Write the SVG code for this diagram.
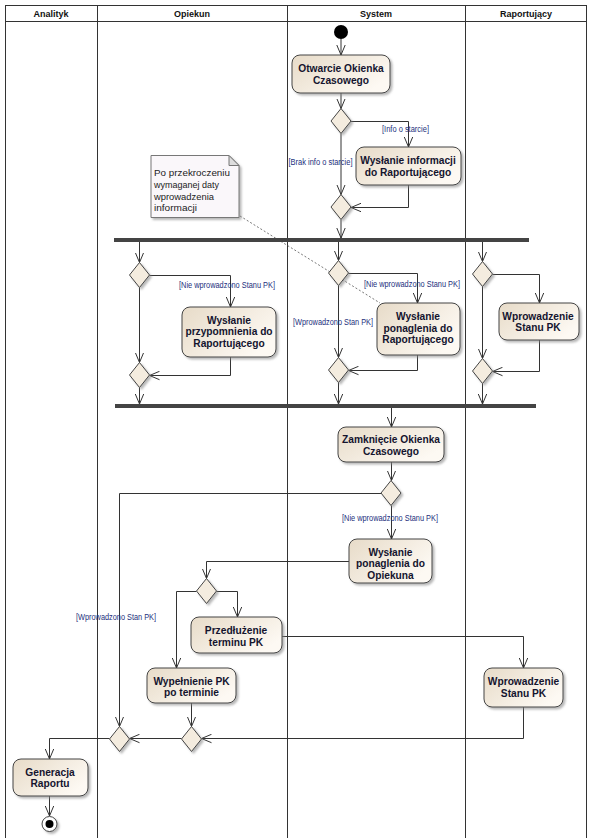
<svg xmlns="http://www.w3.org/2000/svg" width="591" height="838" viewBox="0 0 591 838">
<style>
.lane{fill:none;stroke:#333;stroke-width:1}
.hd{font-family:"Liberation Sans",Arial,sans-serif;font-size:9px;font-weight:bold;fill:#111;text-anchor:middle}
.act{fill:url(#g);stroke:#444;stroke-width:1;filter:url(#sh)}
.dia{fill:#f4ecdf;stroke:#444;stroke-width:1;filter:url(#sh)}
.at{font-family:"Liberation Sans",Arial,sans-serif;font-size:10.2px;font-weight:bold;fill:#14142e;text-anchor:middle}
.c{fill:none;stroke:#333;stroke-width:1;marker-end:url(#arr)}
.cn{fill:none;stroke:#333;stroke-width:1}
.lb{font-family:"Liberation Sans",Arial,sans-serif;font-size:8.5px;fill:#1c2f7c;text-anchor:middle}
.bar{fill:#444}
.nt{font-family:"Liberation Sans",Arial,sans-serif;font-size:9px;fill:#222}
</style>
<defs>
<linearGradient id="g" x1="0" y1="0" x2="1" y2="0.6">
<stop offset="0" stop-color="#e7dbc8"/>
<stop offset="1" stop-color="#fdf9f3"/>
</linearGradient>
<filter id="sh" x="-20%" y="-20%" width="150%" height="150%">
<feDropShadow dx="2" dy="2" stdDeviation="1" flood-color="#888" flood-opacity="0.6"/>
</filter>
<marker id="arr" viewBox="0 0 10 10" refX="10" refY="5" markerWidth="10" markerHeight="10" markerUnits="userSpaceOnUse" orient="auto">
<path d="M0,0.8 L10,5 L0,9.2" fill="none" stroke="#333" stroke-width="1"/>
</marker>
</defs>
<rect width="591" height="838" fill="#fff"/>
<g id="lanes">
<rect class="lane" x="5.5" y="5.5" width="581" height="840"/>
<line class="lane" x1="5" y1="21.5" x2="587" y2="21.5"/>
<line class="lane" x1="97.5" y1="5" x2="97.5" y2="838"/>
<line class="lane" x1="287.5" y1="5" x2="287.5" y2="838"/>
<line class="lane" x1="465.5" y1="5" x2="465.5" y2="838"/>
<text class="hd" x="51" y="16.5">Analityk</text>
<text class="hd" x="192" y="16.5">Opiekun</text>
<text class="hd" x="376" y="16.5">System</text>
<text class="hd" x="526" y="16.5">Raportujący</text>
</g>
<g id="connectors">
<path class="c" d="M341,39 L341,55"/>
<path class="c" d="M341,93 L341,108.5"/>
<path class="c" d="M351,121.5 L408.5,121.5 L408.5,147"/>
<path class="c" d="M341,133.5 L341,194.5"/>
<path class="c" d="M408.5,185 L408.5,207.5 L351,207.5"/>
<path class="c" d="M341,219.5 L341,238"/>
<path class="c" d="M139.5,242 L139.5,262.5"/>
<path class="c" d="M149.5,275.5 L230.5,275.5 L230.5,307"/>
<path class="c" d="M139.5,287.5 L139.5,362.5"/>
<path class="c" d="M230.5,357 L230.5,375.5 L149.5,375.5"/>
<path class="c" d="M139.5,387.5 L139.5,404"/>
<path class="c" d="M338.5,242 L338.5,260.5"/>
<path class="c" d="M348.5,273.5 L417.5,273.5 L417.5,303"/>
<path class="c" d="M338.5,285.5 L338.5,357.5"/>
<path class="c" d="M417.5,355 L417.5,370.5 L348.5,370.5"/>
<path class="c" d="M338.5,382.5 L338.5,404"/>
<path class="c" d="M482.5,242 L482.5,261.5"/>
<path class="c" d="M492.5,274.5 L539.5,274.5 L539.5,303"/>
<path class="c" d="M482.5,286.5 L482.5,358.5"/>
<path class="c" d="M539.5,340 L539.5,371.5 L492.5,371.5"/>
<path class="c" d="M482.5,383.5 L482.5,404"/>
<path class="c" d="M391.5,408 L391.5,427"/>
<path class="c" d="M391.5,462 L391.5,480.5"/>
<path class="c" d="M381.5,493.5 L119.5,493.5 L119.5,726.5"/>
<path class="c" d="M391.5,505.5 L391.5,539"/>
<path class="c" d="M349,561.5 L206.5,561.5 L206.5,578.5"/>
<path class="c" d="M216.5,591.5 L237.5,591.5 L237.5,617"/>
<path class="c" d="M196.5,591.5 L176.5,591.5 L176.5,668"/>
<path class="c" d="M282,636.5 L523.5,636.5 L523.5,668"/>
<path class="c" d="M191.5,703 L191.5,726.5"/>
<path class="c" d="M523.5,707 L523.5,738.5 L201.5,738.5"/>
<path class="c" d="M181.5,738.5 L129.5,738.5"/>
<path class="c" d="M109.5,738.5 L49.5,738.5 L49.5,759"/>
<path class="c" d="M49.5,796 L49.5,816"/>
<path d="M240,216 L380,303" fill="none" stroke="#555" stroke-width="0.8" stroke-dasharray="2,2"/>
<text class="lb" x="405.5" y="132" textLength="47" lengthAdjust="spacingAndGlyphs">[Info o starcie]</text>
<text class="lb" x="320.5" y="164.5" textLength="64" lengthAdjust="spacingAndGlyphs">[Brak info o starcie]</text>
<text class="lb" x="227" y="288" textLength="96" lengthAdjust="spacingAndGlyphs">[Nie wprowadzono Stanu PK]</text>
<text class="lb" x="412" y="287" textLength="96" lengthAdjust="spacingAndGlyphs">[Nie wprowadzono Stanu PK]</text>
<text class="lb" x="333" y="325" textLength="80" lengthAdjust="spacingAndGlyphs">[Wprowadzono Stan PK]</text>
<text class="lb" x="390" y="520.5" textLength="96" lengthAdjust="spacingAndGlyphs">[Nie wprowadzono Stanu PK]</text>
<text class="lb" x="116" y="619.5" textLength="80" lengthAdjust="spacingAndGlyphs">[Wprowadzono Stan PK]</text>
</g>
<g id="start"><circle cx="341" cy="32" r="7" fill="#000"/></g>
<g id="end"><circle cx="49.5" cy="824" r="7.5" fill="#fff" stroke="#444" stroke-width="1" filter="url(#sh)"/><circle cx="49.5" cy="824" r="4" fill="#000"/></g>
<g id="note">
<path d="M151,155.5 L229,155.5 L239,165.5 L239,217.5 L151,217.5 Z" fill="#faf7fa" stroke="#777" stroke-width="1" filter="url(#sh)"/>
<path d="M229,155.5 L229,165.5 L239,165.5 Z" fill="#ddd" stroke="#777" stroke-width="1"/>
<text class="nt" x="154" y="176" textLength="76" lengthAdjust="spacingAndGlyphs">Po przekroczeniu</text>
<text class="nt" x="154" y="188" textLength="65" lengthAdjust="spacingAndGlyphs">wymaganej daty</text>
<text class="nt" x="154" y="200" textLength="60" lengthAdjust="spacingAndGlyphs">wprowadzenia</text>
<text class="nt" x="154" y="211" textLength="43" lengthAdjust="spacingAndGlyphs">informacji</text>
</g>
<g id="fork1"><rect class="bar" x="114" y="238" width="415" height="4"/></g>
<g id="join2"><rect class="bar" x="115" y="404" width="421" height="4"/></g>
<g id="a_open"><rect class="act" x="292" y="55" width="98" height="38" rx="8"/><text class="at" x="341" y="72">Otwarcie Okienka</text><text class="at" x="341" y="84">Czasowego</text></g>
<g id="d1"><polygon class="dia" points="341,108.5 351,121 341,133.5 331,121"/></g>
<g id="a_info"><rect class="act" x="356" y="147" width="105" height="38" rx="8"/><text class="at" x="408" y="164">Wysłanie informacji</text><text class="at" x="408" y="175.5">do Raportującego</text></g>
<g id="d2"><polygon class="dia" points="341,194.5 351,207 341,219.5 331,207"/></g>
<g id="d3"><polygon class="dia" points="139.5,262.5 149.5,275 139.5,287.5 129.5,275"/></g>
<g id="a_przyp"><rect class="act" x="182" y="307" width="94" height="50" rx="8"/><text class="at" x="229" y="324">Wysłanie</text><text class="at" x="229" y="335">przypomnienia do</text><text class="at" x="229" y="346.5">Raportującego</text></g>
<g id="d4"><polygon class="dia" points="139.5,362.5 149.5,375 139.5,387.5 129.5,375"/></g>
<g id="d5"><polygon class="dia" points="338.5,260.5 348.5,273 338.5,285.5 328.5,273"/></g>
<g id="a_ponrap"><rect class="act" x="377" y="303" width="83" height="52" rx="8"/><text class="at" x="418" y="319.5">Wysłanie</text><text class="at" x="418" y="331.5">ponaglenia do</text><text class="at" x="418" y="343">Raportującego</text></g>
<g id="d6"><polygon class="dia" points="338.5,357.5 348.5,370 338.5,382.5 328.5,370"/></g>
<g id="d7"><polygon class="dia" points="482.5,261.5 492.5,274 482.5,286.5 472.5,274"/></g>
<g id="a_wprow1"><rect class="act" x="499" y="303" width="80" height="37" rx="8"/><text class="at" x="538" y="320">Wprowadzenie</text><text class="at" x="538" y="331">Stanu PK</text></g>
<g id="d8"><polygon class="dia" points="482.5,358.5 492.5,371 482.5,383.5 472.5,371"/></g>
<g id="a_close"><rect class="act" x="338" y="427" width="106" height="35" rx="8"/><text class="at" x="391" y="442.5">Zamknięcie Okienka</text><text class="at" x="391" y="454.5">Czasowego</text></g>
<g id="d9"><polygon class="dia" points="391,480.5 401,493 391,505.5 381,493"/></g>
<g id="a_ponop"><rect class="act" x="349" y="539" width="83" height="44" rx="8"/><text class="at" x="390.5" y="555.5">Wysłanie</text><text class="at" x="390.5" y="567">ponaglenia do</text><text class="at" x="390.5" y="578.5">Opiekuna</text></g>
<g id="d10"><polygon class="dia" points="206.5,578.5 216.5,591 206.5,603.5 196.5,591"/></g>
<g id="a_przed"><rect class="act" x="191" y="617" width="91" height="36" rx="8"/><text class="at" x="236" y="633.5">Przedłużenie</text><text class="at" x="236" y="645.5">terminu PK</text></g>
<g id="a_wyp"><rect class="act" x="147" y="668" width="89" height="35" rx="8"/><text class="at" x="191.5" y="684.5">Wypełnienie PK</text><text class="at" x="191.5" y="696">po terminie</text></g>
<g id="a_wprow2"><rect class="act" x="484" y="668" width="79" height="39" rx="8"/><text class="at" x="523.5" y="685">Wprowadzenie</text><text class="at" x="523.5" y="696.5">Stanu PK</text></g>
<g id="d12"><polygon class="dia" points="191.5,726.5 201.5,739 191.5,751.5 181.5,739"/></g>
<g id="d11"><polygon class="dia" points="119.5,726.5 129.5,739 119.5,751.5 109.5,739"/></g>
<g id="a_gen"><rect class="act" x="13" y="759" width="75" height="37" rx="8"/><text class="at" x="50" y="776">Generacja</text><text class="at" x="50" y="787">Raportu</text></g>
</svg>
